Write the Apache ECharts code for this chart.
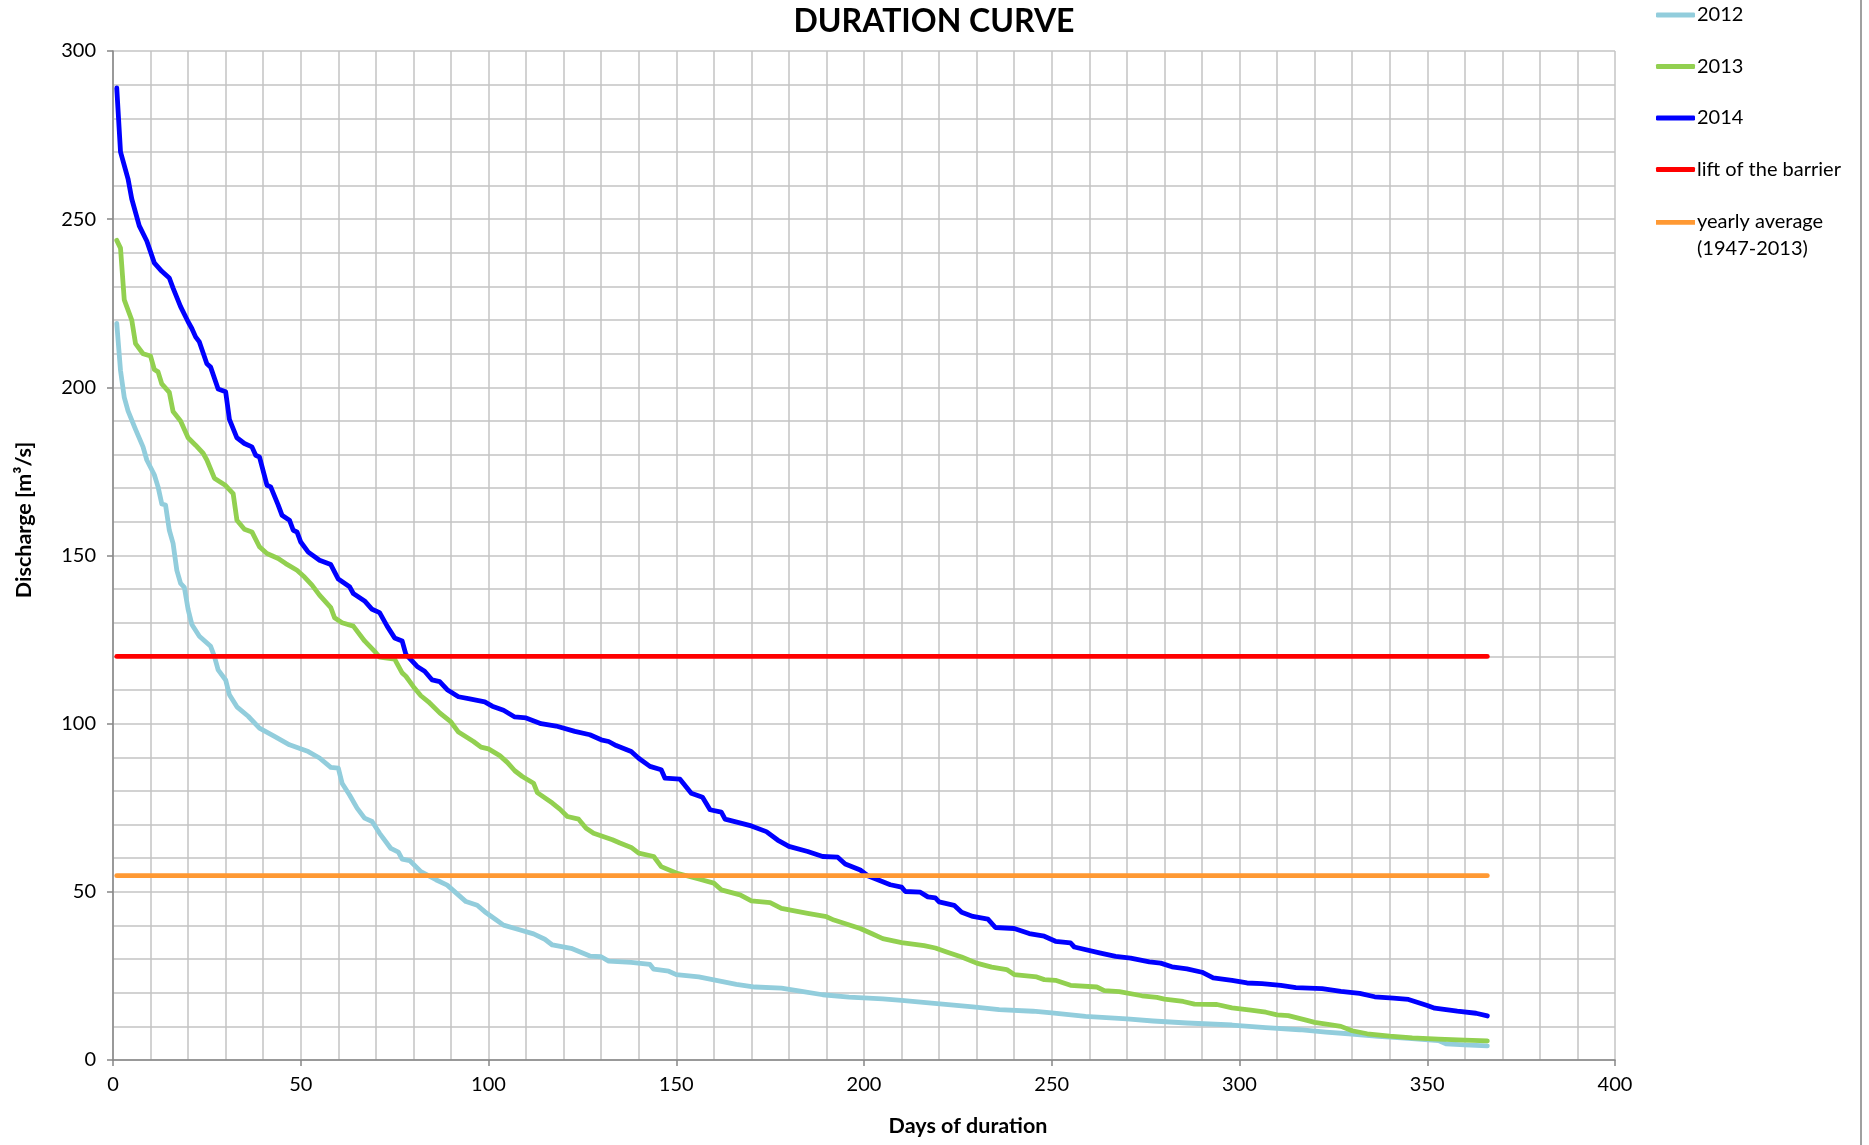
<!DOCTYPE html>
<html>
<head>
<meta charset="utf-8">
<script src="https://cdn.jsdelivr.net/npm/echarts@6/dist/echarts.min.js"></script>
<style>
html,body{margin:0;padding:0;background:#fff;}
#chart{width:1869px;height:1145px;}
</style>
</head>
<body>
<div id="chart"></div>
<script>
// ---- data (day of duration, discharge m3/s) ----
const curve2012 = [[1,219],[2,205],[3,197],[4,193],[6,187.5],[8,182.3],[9,178.4],[11,174],[12,170.4],[13,165.3],[14,165],[15,157.5],[16,153.6],[17,145.6],[18,141.7],[19,140.5],[20,134],[21,129.5],[23,126],[26,123],[27,120],[28,116],[30,113],[31,108.6],[33,105],[36,102.2],[39,98.7],[43,96.2],[47,93.7],[52,91.7],[55,89.8],[58,87],[60,86.8],[61,82.3],[63,78.8],[65,74.9],[67,71.9],[69,70.9],[71,67.4],[74,62.9],[76,61.8],[77,59.7],[79,59.3],[82,56],[86,53.6],[89,52],[94,47.1],[97,46],[99,44.1],[102,41.7],[104,40.1],[108,38.8],[112,37.5],[115,35.9],[117,34.2],[122,33.2],[127,30.9],[130,30.7],[132,29.4],[138,29],[143,28.4],[144,27],[148,26.4],[150,25.4],[156,24.7],[162,23.4],[166,22.5],[171,21.7],[178,21.4],[183,20.5],[189,19.4],[196,18.7],[205,18.2],[210,17.7],[218,16.9],[229,15.8],[236,15],[245,14.5],[250,14],[259,13],[270,12.2],[277,11.6],[286,11],[298,10.4],[307,9.6],[316,9],[323,8.3],[329,7.8],[337,7],[345,6.4],[353,5.8],[355,4.8],[360,4.5],[366,4.2]];

const curve2013 = [[1,243.7],[2,241.4],[3,226],[5,220],[6,213],[8,210],[10,209.3],[11,205.3],[12,204.6],[13,201],[15,198.5],[16,192.8],[18,190],[20,185],[22,182.8],[24,180.4],[25,178.4],[27,173],[30,170.8],[32,168.4],[33,160.5],[35,157.8],[37,157],[39,152.6],[41,150.6],[44,149.1],[46,147.6],[49,145.6],[51,143.6],[53,141.2],[55,138.2],[58,134.5],[59,131.5],[61,130],[64,129],[67,124.6],[70,121.1],[71,119.8],[75,119.2],[77,115.1],[78,114.1],[80,111],[82,108.3],[84,106.5],[87,103.2],[90,100.5],[92,97.5],[96,94.7],[98,93],[100,92.5],[103,90.5],[105,88.5],[107,86],[109,84.3],[112,82.3],[113,79.5],[117,76.4],[119,74.6],[121,72.4],[124,71.6],[126,68.9],[128,67.4],[133,65.5],[135,64.5],[138,63.2],[140,61.5],[144,60.5],[146,57.5],[150,55.6],[156,53.8],[160,52.6],[162,50.6],[167,49.1],[170,47.3],[175,46.8],[178,45.1],[185,43.6],[190,42.6],[192,41.6],[199,39.1],[202,37.6],[205,36.1],[210,34.9],[216,34],[219,33.3],[222,32.1],[226,30.6],[230,28.8],[234,27.6],[238,26.9],[240,25.4],[246,24.7],[248,23.9],[251,23.7],[255,22.2],[262,21.7],[264,20.6],[268,20.3],[274,19.1],[278,18.6],[280,18.1],[285,17.4],[288,16.6],[294,16.5],[298,15.5],[303,14.8],[307,14.2],[310,13.4],[313,13.2],[318,11.8],[320,11.2],[324,10.5],[327,10],[330,8.7],[334,7.8],[340,7.1],[346,6.6],[353,6.2],[360,5.9],[366,5.7]];

const curve2014 = [[1,289],[2,270],[4,262],[5,256],[7,248],[9,243.5],[11,237],[13,234.5],[15,232.5],[16,229.5],[18,224],[20,219.5],[21,217.5],[22,215],[23,213.5],[25,207],[26,206],[28,199.5],[30,198.7],[31,190.5],[33,185],[35,183.3],[37,182.3],[38,179.8],[39,179.3],[41,170.9],[42,170.4],[44,165],[45,162],[47,160.5],[48,157.5],[49,157],[50,154],[52,151],[55,148.6],[58,147.3],[60,143],[63,140.7],[64,138.7],[67,136.5],[69,134],[71,133],[73,129],[75,125.5],[77,124.6],[78,120.6],[81,117],[83,115.6],[85,113],[87,112.5],[89,110.1],[92,108],[95,107.4],[99,106.5],[101,105.2],[104,104],[107,102],[110,101.7],[114,100],[118,99.3],[123,97.7],[127,96.7],[130,95.2],[132,94.7],[134,93.5],[138,91.7],[140,89.7],[143,87.3],[146,86.3],[147,83.8],[151,83.5],[154,79.3],[157,78.1],[159,74.4],[162,73.7],[163,71.6],[170,69.6],[174,67.9],[177,65.4],[180,63.5],[185,62],[189,60.5],[193,60.3],[195,58.3],[199,56.5],[201,54.8],[207,52.1],[210,51.4],[211,50.1],[215,49.9],[217,48.5],[219,48.2],[220,47],[224,46],[226,43.9],[229,42.7],[233,41.9],[235,39.4],[240,39.1],[244,37.6],[248,36.8],[251,35.3],[255,34.8],[256,33.6],[263,31.8],[267,30.8],[271,30.3],[276,29.2],[279,28.8],[282,27.7],[286,27.1],[290,26.1],[293,24.4],[298,23.7],[302,22.9],[306,22.7],[311,22.2],[315,21.5],[322,21.2],[327,20.4],[332,19.8],[336,18.8],[341,18.4],[345,18],[350,16.2],[352,15.4],[358,14.5],[363,13.9],[366,13.1]];

const barrierDays = [1, 366];
const barrierLevel = [120, 120];
const averageDays = [1, 366];
const averageLevel = [54.8, 54.8];

const seriesNames = ['2012', '2013', '2014', 'lift of the barrier', 'yearly average\n(1947-2013)'];
const seriesColors = ['#92CDDC', '#92D050', '#0000FF', '#FF0000', '#FF9933'];

const xTicks = [0, 50, 100, 150, 200, 250, 300, 350, 400];
const yTicks = [0, 50, 100, 150, 200, 250, 300];

const chartTitle = 'DURATION CURVE';
const xName = 'Days of duration';
const yName = 'Discharge [m³/s]';

// ---- chart ----
const FONT = 'Lato, "Open Sans", sans-serif';
const chart = echarts.init(document.getElementById('chart'), null, {renderer: 'canvas'});

function pairs(xs, ys) { return xs.map((x, i) => [x, ys[i]]); }

function lineSeries(name, data, color, width) {
  return {
    name: name, type: 'line', data: data, showSymbol: false, symbol: 'none',
    lineStyle: {color: color, width: width, cap: 'round', join: 'round'},
    itemStyle: {color: color},
    animation: false, z: 3
  };
}

const gridLine = {show: true, lineStyle: {color: '#C4C4C4', width: 1.5}};

const option = {
  backgroundColor: '#ffffff',
  animation: false,
  title: {
    text: chartTitle, left: 929, top: 1, textAlign: 'center',
    textStyle: {fontFamily: FONT, fontWeight: 'bold', fontSize: 32, color: '#000'}
  },
  grid: {left: 113, right: 254, top: 51, bottom: 85, containLabel: false},
  legend: [
    {
      data: seriesNames.slice(0, 4), orient: 'vertical', left: 1651, top: -1,
      itemWidth: 39, itemHeight: 5, itemGap: 29.5, icon: 'roundRect',
      textStyle: {fontFamily: FONT, fontSize: 20, color: '#000', lineHeight: 22, padding: [0, 0, 0, -3]},
      selectedMode: false
    },
    {
      data: [seriesNames[4]], orient: 'vertical', left: 1651, top: 203,
      itemWidth: 39, itemHeight: 31,
      icon: 'path://M0,0H40V5H0Z M0,31H40V31.01H0Z',
      textStyle: {fontFamily: FONT, fontSize: 20, color: '#000', lineHeight: 27, padding: [0, 0, 0, -3]},
      selectedMode: false
    }
  ],
  xAxis: {
    type: 'value', min: 0, max: 400, interval: 50,
    name: xName, nameLocation: 'middle', nameGap: 55,
    nameTextStyle: {fontFamily: FONT, fontWeight: 'bold', fontSize: 21.5, color: '#000', padding: [0, 0, 0, 208]},
    axisLine: {show: true, lineStyle: {color: '#868686', width: 1.5}},
    axisTick: {show: true, length: 6, lineStyle: {color: '#868686', width: 1.5}},
    axisLabel: {fontFamily: FONT, fontSize: 20, color: '#000', margin: 15,
      formatter: v => xTicks.includes(v) ? String(v) : ''},
    splitLine: gridLine,
    minorTick: {show: false, splitNumber: 5},
    minorSplitLine: gridLine
  },
  yAxis: {
    type: 'value', min: 0, max: 300, interval: 50,
    name: yName, nameLocation: 'middle', nameGap: 78, nameRotate: 90,
    nameTextStyle: {fontFamily: FONT, fontWeight: 'bold', fontSize: 21.5, color: '#000', padding: [0, 0, 0, 71]},
    axisLine: {show: true, lineStyle: {color: '#868686', width: 1.5}},
    axisTick: {show: true, length: 6, lineStyle: {color: '#868686', width: 1.5}},
    axisLabel: {fontFamily: FONT, fontSize: 20, color: '#000', margin: 17,
      formatter: v => yTicks.includes(v) ? String(v) : ''},
    splitLine: gridLine,
    minorTick: {show: false, splitNumber: 5},
    minorSplitLine: gridLine
  },
  series: [
    lineSeries(seriesNames[0], curve2012, seriesColors[0], 4.8),
    lineSeries(seriesNames[1], curve2013, seriesColors[1], 4.8),
    lineSeries(seriesNames[2], curve2014, seriesColors[2], 4.8),
    lineSeries(seriesNames[3], pairs(barrierDays, barrierLevel), seriesColors[3], 4.8),
    lineSeries(seriesNames[4], pairs(averageDays, averageLevel), seriesColors[4], 4.8)
  ],
  graphic: [
    {type: 'line', shape: {x1: 1861, y1: 0, x2: 1861, y2: 1145},
     style: {stroke: '#A0A0A0', lineWidth: 2}, silent: true}
  ]
};
chart.setOption(option);
</script>
</body>
</html>
